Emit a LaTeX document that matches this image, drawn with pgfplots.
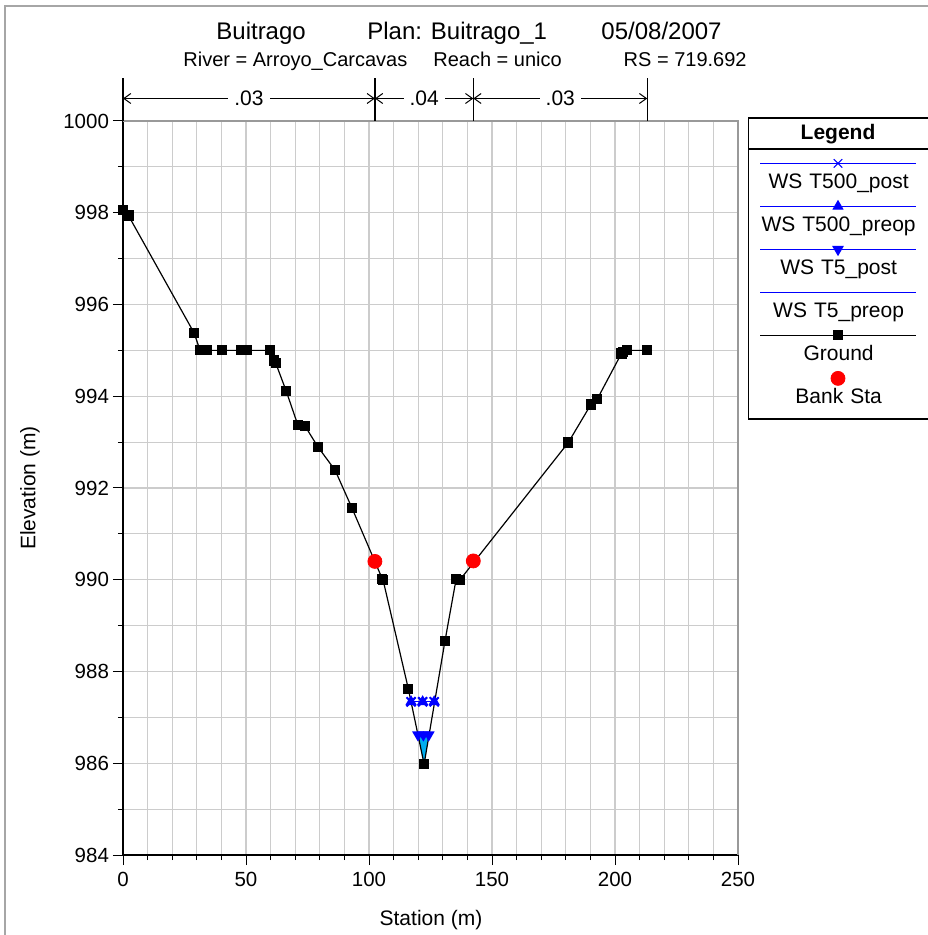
\documentclass[border=0pt]{standalone}
\usepackage{pgfplots}
\pgfplotsset{compat=1.18}
\usepackage{fontspec}
\setmainfont{Liberation Sans}
\usetikzlibrary{arrows.meta}

\begin{document}
\begin{tikzpicture}
\useasboundingbox (-61.5pt,-40pt) rectangle (402pt,427.5pt);
\begin{axis}[
    name=ax,
    scale only axis, width=307.5pt, height=367pt,
    xmin=0, xmax=250, ymin=984, ymax=1000,
    xtick={0,50,...,250}, minor xtick={10,20,...,240},
    ytick={984,986,...,1000}, minor ytick={985,987,...,999},
    grid=both,
    grid style={draw=gray!40, line width=0.6pt},
    minor grid style={draw=gray!40, line width=0.6pt},
    axis x line*=bottom, axis y line*=left,
    axis line style={black, line width=0.6pt},
    tick align=outside, major tick length=5pt, minor tick length=2.5pt,
    tick style={black, line width=0.5pt},
    /pgf/number format/assume math mode=true,
    /pgf/number format/1000 sep={},
    tick label style={font=\fontsize{10.25}{12}\selectfont},
    yticklabel style={xshift=1.5pt},
    xlabel={Station (m)}, ylabel={Elevation (m)},
    label style={font=\fontsize{10.5}{12}\selectfont},
    xlabel style={at={(rel axis cs:0.5008,-0.0886)}, anchor=center},
    ylabel style={at={(rel axis cs:-0.1512,0.5)}, anchor=center},
    clip=false,
    legend style={draw=none, fill=none, at={(1.1626,0.94619)}, anchor=north,
        inner sep=0pt, column sep=0pt, row sep=0pt, cells={anchor=center},
        nodes={text width=78pt, align=center, inner sep=0pt, minimum height=21.5pt,
               font=\fontsize{10.5}{12}\selectfont}},
    legend image code/.code={
        \path (0pt,0pt);
        \draw[overlay, mark repeat=2, mark phase=2, #1]
            plot coordinates {(0pt,9.5pt) (39pt,9.5pt) (78pt,9.5pt)};
    },
]
% water below T5
\addplot[fill=cyan, draw=none, forget plot] coordinates {
    (119.9,986.62) (124.3,986.62) (122.4,985.98)};

\addplot[blue, line width=0.5pt, mark=x, mark size=3pt] coordinates {
    (117.1,987.34) (121.8,987.34) (126.5,987.34)};
\addlegendentry{WS T500\_post}
\addplot[blue, line width=0.5pt, mark=triangle*, mark size=2.8pt] coordinates {
    (117.1,987.34) (121.8,987.34) (126.5,987.34)};
\addlegendentry{WS T500\_preop}
\addplot[blue, line width=0.6pt, mark=triangle*, mark size=2.8pt, mark options={rotate=180}] coordinates {
    (119.9,986.62) (122.1,986.62) (124.3,986.62)};
\addlegendentry{WS T5\_post}
\addplot[blue, line width=0.5pt, mark=none] coordinates {
    (119.9,986.62) (124.3,986.62)};
\addlegendentry{WS T5\_preop}
% T500_post drawn again so its crosses sit on top
\addplot[blue, line width=0.5pt, mark=x, mark size=3.2pt, mark options={line width=1pt}, forget plot] coordinates {
    (117.1,987.34) (121.8,987.34) (126.5,987.34)};

\addplot[black, line width=0.6pt, mark=square*, mark size=2.25pt] coordinates {
    (0,998.06) (2.2,997.94) (29,995.37) (31.3,995.0) (34.3,995.0) (40.1,995.0)
    (48.2,995.0) (50.3,995.0) (59.8,995.0) (61.4,994.78) (62.1,994.72)
    (66.3,994.12) (71.1,993.37) (74,993.35) (79.3,992.89) (86.2,992.39)
    (93.1,991.56) (105.4,990.02) (105.7,990.0) (116.0,987.62) (122.4,985.98)
    (130.9,988.67) (135.4,990.01) (137,990.0) (181.0,992.99) (190.2,993.82)
    (192.8,993.94) (202.6,994.93) (203.4,994.97) (205,995.0) (213.1,995.0)};
\addlegendentry{Ground}
\addplot[only marks, mark=*, mark size=3.5pt, mark options={draw=red, fill=red}] coordinates {
    (102.4,990.40) (142.4,990.41)};
\addlegendentry{Bank Sta}
\end{axis}

\begin{scope}[shift={(ax.south west)}]
% top and right frame of the plot area
\draw[gray!80, line width=0.6pt] (0pt,367pt) -- (307.5pt,367pt) -- (307.5pt,0pt);
% Manning's n boundaries
\draw[line width=0.6pt] (0pt,367pt) -- (0pt,388.25pt);
\draw[line width=0.6pt] (125.95pt,367pt) -- (125.95pt,388.25pt);
\draw[line width=0.6pt] (175.15pt,367pt) -- (175.15pt,388.25pt);
\draw[line width=0.6pt] (262.11pt,367pt) -- (262.11pt,388.25pt);
\begin{scope}[every node/.style={fill=white, inner xsep=3pt, inner ysep=1pt, font=\fontsize{10.5}{12}\selectfont},
              line width=0.5pt]
\draw[{Straight Barb[length=3.5pt,width=5pt]}-{Straight Barb[length=3.5pt,width=5pt]}]
    (0pt,378.25pt) -- node{.03} (125.95pt,378.25pt);
\draw[{Straight Barb[length=3.5pt,width=5pt]}-{Straight Barb[length=3.5pt,width=5pt]}]
    (125.95pt,378.25pt) -- node{.04} (175.15pt,378.25pt);
\draw[{Straight Barb[length=3.5pt,width=5pt]}-{Straight Barb[length=3.5pt,width=5pt]}]
    (175.15pt,378.25pt) -- node{.03} (262.11pt,378.25pt);
\end{scope}
\begin{scope}[every node/.style={inner sep=0pt, font=\fontsize{12}{14}\selectfont}]
\node[anchor=base west] at (46.5pt,407.5pt) {Buitrago};
\node[anchor=base west] at (122pt,407.5pt) {Plan: Buitrago\_1};
\node[anchor=base east] at (299.5pt,407.5pt) {05/08/2007};
\end{scope}
\begin{scope}[every node/.style={inner sep=0pt, font=\fontsize{10}{12}\selectfont}]
\node[anchor=base west] at (30pt,394pt) {River = Arroyo\_Carcavas};
\node[anchor=base west] at (155pt,394pt) {Reach = unico};
\node[anchor=base east] at (312pt,394pt) {RS = 719.692};
\end{scope}
% legend frame and title
\draw[line width=0.6pt] (410pt,368.5pt) -- (312.75pt,368.5pt) -- (312.75pt,218pt) -- (410pt,218pt);
\draw[line width=0.6pt] (312.75pt,353pt) -- (410pt,353pt);
\node[font=\bfseries\fontsize{10.5}{12}\selectfont] at (357.5pt,360.5pt) {Legend};
% outer frame
\draw[gray!70, line width=1pt] (-59pt,-60pt) -- (-59pt,424.5pt) -- (420pt,424.5pt);
\end{scope}
\end{tikzpicture}
\end{document}
